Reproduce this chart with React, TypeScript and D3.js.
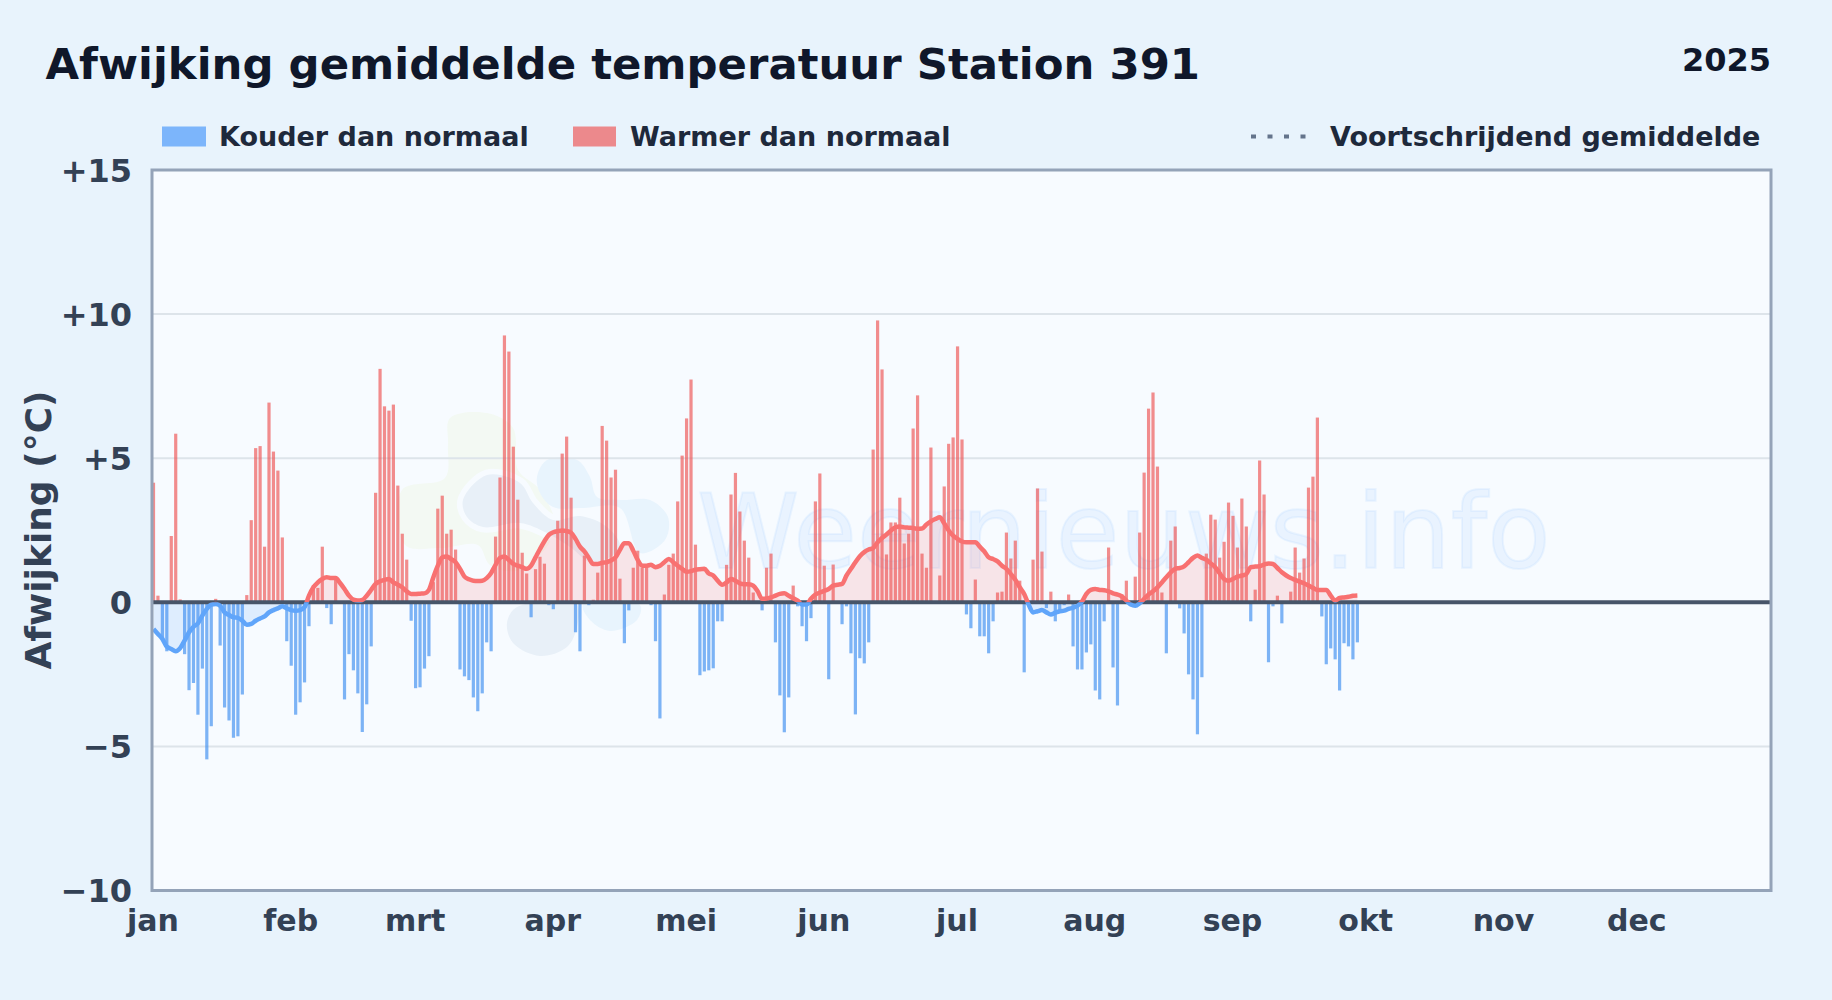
import React from "react";
import * as d3 from "d3";

const title = "Afwijking gemiddelde temperatuur Station 391";
const yearLabel = "2025";
const yLabel = "Afwijking (°C)";
const monthLabels = ["jan","feb","mrt","apr","mei","jun","jul","aug","sep","okt","nov","dec"];
const monthStartDays = [0,31,59,90,120,151,181,212,243,273,304,334];
const yTicks = [-10,-5,0,5,10,15];
const legendCold = "Kouder dan normaal";
const legendWarm = "Warmer dan normaal";
const legendMean = "Voortschrijdend gemiddelde";

const dailyDeviation = [
4.15,0.23,-1.25,-1.7,2.3,5.85,0.1,-1.8,-3.05,-2.8,-3.9,-2.3,-5.45,-4.3,0.12,-1.5,-3.65,-4.1,-4.7,-4.65,-3.2,0.25,2.85,5.35,5.42,1.93,6.93,5.23,4.57,2.25,
-1.35,-2.2,-3.9,-3.47,-2.78,-0.83,0.6,0.5,1.93,-0.2,-0.76,0.85,0.02,-3.37,-1.8,-2.36,-3.16,-4.5,-3.54,-1.53,3.8,8.1,6.8,6.65,6.86,4.05,2.38,1.48,-0.64,-2.98,
-2.95,-2.3,-1.87,0.7,3.25,3.7,2.38,2.52,1.83,-2.33,-2.57,-2.7,-3.3,-3.78,-3.16,-1.39,-1.7,2.28,4.33,9.26,8.7,5.4,3.56,1.72,1.0,-0.52,1.15,1.58,1.34,-0.1,
-0.24,2.83,5.16,5.75,3.63,-1.04,-1.7,1.62,-0.1,0.09,1.03,6.12,5.61,4.33,4.6,0.82,-1.42,-0.28,1.2,1.79,1.2,1.2,-0.1,-1.35,-4.03,0.27,1.3,1.69,3.5,5.09,
6.38,7.73,2.0,-2.53,-2.4,-2.36,-2.29,-0.66,-0.66,1.3,3.74,4.49,3.15,2.14,1.55,0.34,0.02,-0.28,1.2,1.69,-1.39,-3.23,-4.51,-3.3,0.58,-0.14,-0.83,-1.35,-0.55,3.5,
4.47,1.27,-2.67,1.31,0.02,-0.76,-0.14,-1.77,-3.89,-1.94,-2.12,-1.39,5.3,9.78,8.08,1.66,2.77,2.77,3.63,2.04,2.38,6.03,7.18,1.69,1.2,5.37,0,0.93,4.02,5.5,
5.72,8.88,5.65,-0.42,-0.9,0.79,-1.18,-1.18,-1.77,-0.66,0.34,0.37,2.42,1.52,2.14,0.75,-2.43,0.02,1.48,3.95,1.76,-0.2,0.37,-0.66,-0.3,-0.1,0.27,-1.53,-2.33,-2.33,
-1.74,-1.46,-3.06,-3.37,-0.66,1.9,-2.26,-3.58,0.28,0.75,-0.02,0.89,2.42,4.5,6.72,7.28,4.71,0.34,-1.77,2.14,2.63,-0.21,-1.08,-2.5,-3.37,-4.58,-2.6,1.69,3.04,2.87,
1.55,2.1,3.46,3.0,1.9,3.6,2.63,-0.66,0.44,4.92,3.74,-2.08,-0.14,0.23,-0.73,0.02,0.37,1.9,1.03,1.52,3.98,4.36,6.41,-0.49,-2.15,-1.6,-1.98,-3.06,-1.42,-1.53,
-1.98,-1.39];

const rollingMean = [
-0.93,-1.1,-1.27,-1.54,-1.62,-1.7,-1.59,-1.33,-1.04,-0.85,-0.73,-0.46,-0.23,-0.08,-0.06,-0.12,-0.35,-0.44,-0.52,-0.54,-0.64,-0.78,-0.75,-0.64,-0.56,-0.49,-0.35,-0.27,-0.21,-0.14,
-0.21,-0.27,-0.29,-0.27,-0.17,0.23,0.52,0.69,0.81,0.87,0.84,0.84,0.67,0.46,0.23,0.09,0.06,0.08,0.23,0.43,0.64,0.73,0.78,0.81,0.69,0.61,0.52,0.38,0.29,0.29,
0.3,0.31,0.43,0.87,1.27,1.56,1.59,1.5,1.39,1.16,0.89,0.8,0.75,0.74,0.75,0.84,1.02,1.3,1.54,1.59,1.47,1.33,1.27,1.22,1.16,1.27,1.56,1.85,2.12,2.34,
2.43,2.47,2.49,2.47,2.41,2.2,1.93,1.77,1.54,1.33,1.33,1.37,1.39,1.45,1.56,1.82,2.05,2.05,1.79,1.47,1.27,1.27,1.3,1.22,1.27,1.39,1.5,1.39,1.27,1.16,
1.06,1.08,1.13,1.15,1.16,1.0,0.93,0.75,0.61,0.69,0.81,0.75,0.66,0.63,0.63,0.58,0.38,0.12,0.13,0.17,0.23,0.29,0.31,0.23,0.14,0.06,-0.08,-0.08,0.12,0.27,
0.34,0.4,0.46,0.58,0.61,0.64,0.93,1.16,1.39,1.6,1.74,1.83,1.88,2.08,2.23,2.35,2.49,2.6,2.63,2.6,2.59,2.58,2.55,2.56,2.7,2.81,2.89,2.95,2.74,2.49,
2.31,2.2,2.11,2.08,2.08,2.08,1.93,1.77,1.56,1.5,1.42,1.27,1.16,0.98,0.78,0.52,0.29,-0.08,-0.35,-0.31,-0.27,-0.35,-0.42,-0.36,-0.31,-0.29,-0.23,-0.19,-0.12,0.02,
0.29,0.43,0.46,0.43,0.42,0.38,0.31,0.27,0.2,0.06,-0.08,-0.12,-0.03,0.12,0.27,0.38,0.52,0.69,0.87,1.04,1.16,1.19,1.25,1.39,1.54,1.62,1.54,1.48,1.35,1.22,
1.01,0.81,0.75,0.81,0.89,0.93,0.98,1.22,1.24,1.25,1.31,1.35,1.33,1.19,1.04,0.93,0.84,0.78,0.72,0.66,0.58,0.5,0.43,0.43,0.43,0.23,0.06,0.15,0.17,0.19,
0.23,0.24];

const logoGreen = [[450,418],[487,413],[513,428],[518,470],[540,490],[555,530],[520,570],[490,565],[478,545],[440,548],[405,545],[402,490],[445,478],[448,445]];
const logoDarkTop = [[463,500],[487,475],[520,483],[533,503],[553,520],[580,516],[607,527],[620,547],[593,563],[570,547],[547,533],[520,523],[483,527],[467,517]];
const logoDarkBottom = [[507,623],[517,607],[577,605],[577,627],[567,647],[540,656],[513,643]];
const logoLightTop = [[537,477],[547,460],[577,460],[590,477],[597,497],[620,500],[650,500],[668,517],[665,540],[640,553],[620,508],[583,508],[553,507],[540,493]];
const logoLightBottom = [[583,605],[640,605],[637,620],[610,631],[590,620]];

const W = 1832, H = 1000;
const L = 152, R = 1771, T = 170, B = 890.5;
const FONT = "'DejaVu Sans', sans-serif";

export default function App() {
  const x = d3.scaleLinear().domain([0, 364]).range([L + 1.5, R - 0.5]);
  const y = d3.scaleLinear().domain([-10, 15]).range([B, T]);
  const days = d3.range(rollingMean.length);
  const line = d3.line<number>().x(d => x(d)).y(d => y(rollingMean[d])).curve(d3.curveMonotoneX);
  const area = d3.area<number>().x(d => x(d)).y0(y(0)).y1(d => y(rollingMean[d])).curve(d3.curveMonotoneX);
  const blob = d3.line<number[]>().x(p => p[0]).y(p => p[1]).curve(d3.curveCatmullRomClosed.alpha(0.5));
  const linePath = line(days) || "";
  const areaPath = area(days) || "";
  const tickLabel = (v: number) => (v > 0 ? `+${v}` : v < 0 ? `\u2212${-v}` : "0");

  return (
    <>
      <style>{`html,body{margin:0;padding:0;overflow:hidden}`}</style>
      <svg width={W} height={H} viewBox={`0 0 ${W} ${H}`} style={{ position: "fixed", left: 0, top: 0, display: "block" }} fontFamily={FONT}>
        <defs>
          <clipPath id="plot"><rect x={L} y={T} width={R - L} height={B - T} /></clipPath>
          <clipPath id="above"><rect x={L} y={T} width={R - L} height={y(0) - T} /></clipPath>
          <clipPath id="below"><rect x={L} y={y(0)} width={R - L} height={B - y(0)} /></clipPath>
        </defs>
        <rect width={W} height={H} fill="#e8f3fc" />
        <rect x={L} y={T} width={R - L} height={B - T} fill="#f7fbff" />

        <g clipPath="url(#plot)">
          <path d={blob(logoGreen) || ""} fill="#f3f9f3" />
          <path d={blob(logoDarkTop) || ""} fill="#e8f0f8" stroke="#f7fbff" strokeWidth={11} paintOrder="stroke" />
          <path d={blob(logoLightTop) || ""} fill="#e8f4fd" />
          <path d={blob(logoDarkBottom) || ""} fill="#e8f0f8" />
          <path d={blob(logoLightBottom) || ""} fill="#e8f4fd" />
          <text x={697} y={568} fontSize={103.5} fill="#93c5fd" fillOpacity={0.14} stroke="#93c5fd" strokeOpacity={0.14} strokeWidth={2}>Weernieuws.info</text>
        </g>

        {yTicks.filter(v => v !== 0 && v !== 15 && v !== -10).map(v => (
          <line key={v} x1={L} x2={R} y1={y(v)} y2={y(v)} stroke="#dde4ea" strokeWidth={2} />
        ))}

        <g clipPath="url(#plot)">
          <path d={areaPath} clipPath="url(#above)" fill="#f87171" fillOpacity={0.16} />
          <path d={areaPath} clipPath="url(#below)" fill="#60a5fa" fillOpacity={0.16} />
          {dailyDeviation.map((v, i) => (
            <rect key={i} x={x(i) - 1.6} width={3.2} y={Math.min(y(v), y(0))} height={Math.abs(y(v) - y(0))}
              fill={v >= 0 ? "#ee5050" : "#3b8cf0"} fillOpacity={0.65} />
          ))}
        </g>

        <line x1={L} x2={R} y1={y(0)} y2={y(0)} stroke="#475569" strokeWidth={4} />

        <g clipPath="url(#plot)">
          <path d={linePath} clipPath="url(#above)" fill="none" stroke="#f87171" strokeWidth={4.5} strokeLinejoin="round" />
          <path d={linePath} clipPath="url(#below)" fill="none" stroke="#60a5fa" strokeWidth={4.5} strokeLinejoin="round" />
        </g>

        <rect x={L} y={T} width={R - L} height={B - T} fill="none" stroke="#94a3b8" strokeWidth={3} />

        <text x={45.5} y={79} fontSize={43.4} fontWeight={700} fill="#0f172a">{title}</text>
        <text x={1771} y={71} fontSize={32} fontWeight={700} fill="#0f172a" textAnchor="end">{yearLabel}</text>

        <rect x={162} y={126.5} width={44} height={20} fill="#60a5fa" fillOpacity={0.8} />
        <text x={219} y={146} fontSize={27} fontWeight={700} fill="#1e293b">{legendCold}</text>
        <rect x={573} y={126.5} width={43} height={20} fill="#ee5050" fillOpacity={0.65} />
        <text x={630} y={146} fontSize={27} fontWeight={700} fill="#1e293b">{legendWarm}</text>
        <line x1={1251} x2={1310} y1={136.5} y2={136.5} stroke="#64748b" strokeWidth={4} strokeDasharray="5 11.5" />
        <text x={1330} y={146} fontSize={27} fontWeight={700} fill="#1e293b">{legendMean}</text>

        {yTicks.map(v => (
          <text key={v} x={132} y={y(v)} dy="0.36em" fontSize={32} fontWeight={700} fill="#334155" textAnchor="end">{tickLabel(v)}</text>
        ))}
        {monthLabels.map((m, i) => (
          <text key={m} x={x(monthStartDays[i]) - 0.5} y={931} fontSize={30} fontWeight={700} fill="#334155" textAnchor="middle">{m}</text>
        ))}
        <text transform={`translate(51,530) rotate(-90)`} fontSize={36} fontWeight={700} fill="#334155" textAnchor="middle">{yLabel}</text>
      </svg>
    </>
  );
}
